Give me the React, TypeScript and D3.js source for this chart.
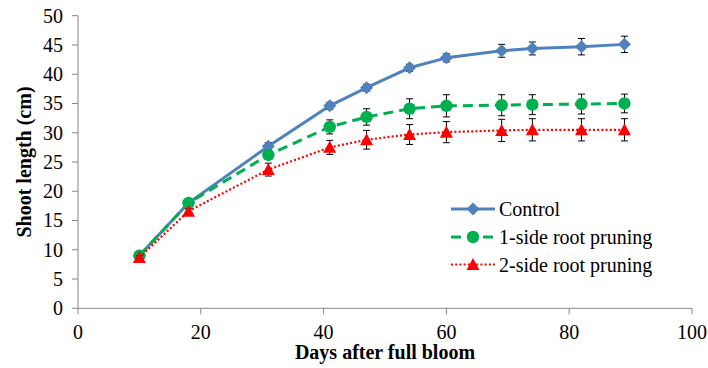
import * as d3 from "d3";

// Days after full bloom (sampling dates)
const days = [10, 18, 31, 41, 47, 54, 60, 69, 74, 82, 89];

// Mean shoot length (cm)
const control = [9.0, 18.0, 27.7, 34.6, 37.7, 41.1, 42.8, 44.0, 44.4, 44.7, 45.1];
const oneSide = [9.0, 18.0, 26.2, 31.0, 32.7, 34.1, 34.6, 34.7, 34.8, 34.9, 35.0];
const twoSide = [8.7, 16.6, 23.7, 27.5, 28.8, 29.7, 30.1, 30.4, 30.5, 30.5, 30.5];

// Error bar half-widths (cm)
const controlErr = [0.3, 0.4, 0.6, 0.6, 0.6, 0.6, 0.7, 1.1, 1.1, 1.4, 1.4];
const oneSideErr = [0.3, 0.4, 0.7, 1.2, 1.4, 1.7, 1.9, 1.8, 1.7, 1.7, 1.6];
const twoSideErr = [0.3, 0.4, 1.1, 1.2, 1.6, 1.7, 1.8, 1.9, 1.9, 1.9, 1.9];

const seriesNames = ["Control", "1-side root pruning", "2-side root pruning"];

const xTicks = [0, 20, 40, 60, 80, 100];
const yTicks = [0, 5, 10, 15, 20, 25, 30, 35, 40, 45, 50];

const W = 708;
const H = 368;
const FONT = "Liberation Serif";
const AXIS = "#868686";

type Pt = { x: number; y: number; e: number };

export default function App() {
  const x = d3.scaleLinear().domain([0, 100]).range([78, 692]);
  const y = d3.scaleLinear().domain([0, 50]).range([308.3, 15.7]);

  const mk = (vals: number[], errs: number[]): Pt[] =>
    days.map((d, i) => ({ x: d, y: vals[i], e: errs[i] }));

  const series = [
    { name: seriesNames[0], data: mk(control, controlErr), color: "#4F81BD", width: 3, dash: "", marker: "diamond" },
    { name: seriesNames[1], data: mk(oneSide, oneSideErr), color: "#00B050", width: 3, dash: "10,6", marker: "circle" },
    { name: seriesNames[2], data: mk(twoSide, twoSideErr), color: "#FF0000", width: 2.2, dash: "2,2.2", marker: "triangle" },
  ];

  const line = d3.line<Pt>().x(d => x(d.x)).y(d => y(d.y));

  const marker = (kind: string, cx: number, cy: number, color: string, key: string) => {
    if (kind === "diamond") {
      const r = 6.5;
      return <path key={key} d={`M${cx},${cy - r}L${cx + r},${cy}L${cx},${cy + r}L${cx - r},${cy}Z`} fill={color} />;
    }
    if (kind === "circle") {
      return <circle key={key} cx={cx} cy={cy} r={6.2} fill={color} />;
    }
    const hw = 6.5;
    return <path key={key} d={`M${cx},${cy - 6.5}L${cx + hw},${cy + 5.5}L${cx - hw},${cy + 5.5}Z`} fill={color} />;
  };

  const legendX0 = 451;
  const legendX1 = 495;
  const legendY = [209, 237, 264.5];

  return (
    <div style={{ position: "absolute", left: 0, top: 0 }}>
      <svg width={W} height={H} style={{ display: "block", background: "#fff", fontFamily: FONT }}>
        {/* axes */}
        <line x1={x(0)} x2={x(0)} y1={y(50)} y2={y(0)} stroke={AXIS} strokeWidth={1} />
        <line x1={x(0)} x2={x(100)} y1={y(0)} y2={y(0)} stroke={AXIS} strokeWidth={1} />
        {yTicks.map(t => (
          <g key={"y" + t}>
            <line x1={x(0) - 6} x2={x(0)} y1={y(t)} y2={y(t)} stroke={AXIS} />
            <text x={63} y={y(t)} dy="0.34em" textAnchor="end" fontSize={20} fill="#000">{t}</text>
          </g>
        ))}
        {xTicks.map(t => (
          <g key={"x" + t}>
            <line x1={x(t)} x2={x(t)} y1={y(0)} y2={y(0) + 6} stroke={AXIS} />
            <text x={x(t)} y={338.5} textAnchor="middle" fontSize={20} fill="#000">{t}</text>
          </g>
        ))}
        <text x={385} y={359} textAnchor="middle" fontSize={20} fontWeight="bold" fill="#000">Days after full bloom</text>
        <text transform={`translate(31,${162}) rotate(-90)`} textAnchor="middle" fontSize={20} fontWeight="bold" fill="#000">Shoot length (cm)</text>

        {/* series */}
        {series.map((s, si) => (
          <g key={"s" + si}>
            <path d={line(s.data) || ""} fill="none" stroke={s.color} strokeWidth={s.width}
              strokeDasharray={s.dash || undefined} strokeLinejoin="round" />
            {s.data.map((d, i) => (
              <g key={"e" + i} stroke="#000" strokeWidth={1}>
                <line x1={x(d.x)} x2={x(d.x)} y1={y(d.y + d.e)} y2={y(d.y - d.e)} />
                <line x1={x(d.x) - 3.5} x2={x(d.x) + 3.5} y1={y(d.y + d.e)} y2={y(d.y + d.e)} />
                <line x1={x(d.x) - 3.5} x2={x(d.x) + 3.5} y1={y(d.y - d.e)} y2={y(d.y - d.e)} />
              </g>
            ))}
            {s.data.map((d, i) => marker(s.marker, x(d.x), y(d.y), s.color, "m" + i))}
          </g>
        ))}

        {/* legend */}
        {series.map((s, si) => (
          <g key={"l" + si}>
            <line x1={legendX0} x2={legendX1} y1={legendY[si]} y2={legendY[si]} stroke={s.color}
              strokeWidth={s.width} strokeDasharray={s.dash || undefined} />
            {marker(s.marker, (legendX0 + legendX1) / 2, legendY[si], s.color, "lm" + si)}
            <text x={499} y={legendY[si] + 7} fontSize={20} fill="#000">{s.name}</text>
          </g>
        ))}
      </svg>
    </div>
  );
}
